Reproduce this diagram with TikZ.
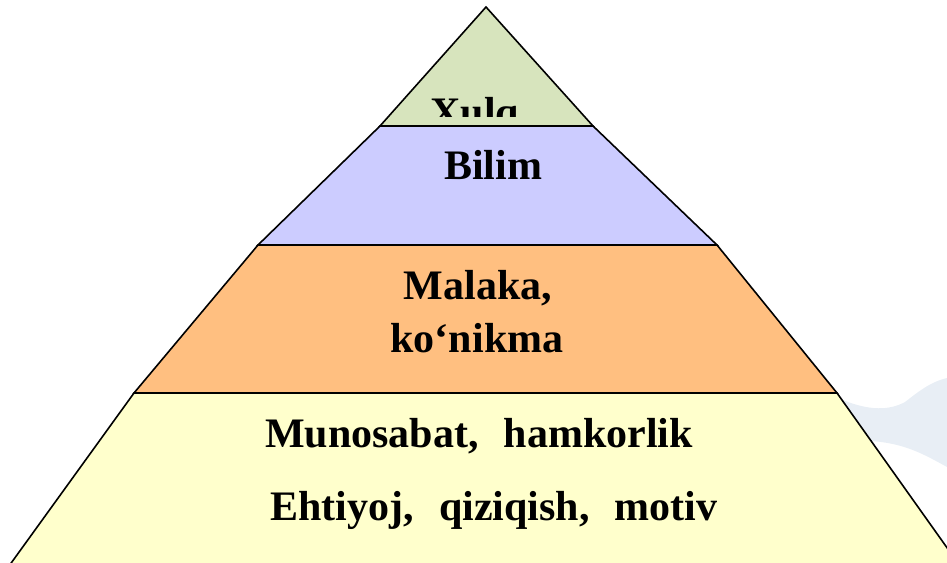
\documentclass[tikz,border=0pt]{standalone}
\usepackage{fontspec}
\setmainfont{Liberation Serif}
\definecolor{cgreen}{HTML}{D7E4BD}
\definecolor{cpurple}{HTML}{CCCCFF}
\definecolor{corange}{HTML}{FFBF80}
\definecolor{cyellow}{HTML}{FFFFCC}
\definecolor{cwater}{HTML}{E8EEF5}
\tikzset{
  layer/.style={draw=black, line width=1.6pt, line join=miter},
  lbl/.style={anchor=base, inner sep=0pt, font=\bfseries\fontsize{42}{50}\selectfont}
}
\begin{document}
\begin{tikzpicture}[x=1pt,y=-1pt]
\useasboundingbox (0,0) rectangle (947,562);
\clip (0,0) rectangle (947,562);
% faint background shape
\fill[cwater] (838,398) .. controls (870,412) and (890,410) .. (905,402)
  .. controls (918,392) and (930,382) .. (947,378) -- (947,467)
  .. controls (925,455) and (905,443) .. (870,441) -- (850,438) -- cycle;
% top triangle
\path[layer, fill=cgreen] (486,7) -- (593,126) -- (380,126) -- cycle;
\begin{scope}
  \clip (370,0) rectangle (600,116);
  \node[lbl] (xulq) at (475,126) {Xulq};
\end{scope}
% layers
\path[layer, fill=cpurple] (380,126) -- (593,126) -- (717,245) -- (258,245) -- cycle;
\path[layer, fill=corange] (258,245) -- (717,245) -- (837,393) -- (134,393) -- cycle;
\path[layer, fill=cyellow] (134,393) -- (837,393) -- (960,566) -- (9,566) -- cycle;
% labels
\node[lbl] (bilim) at (493,179) {Bilim};
\node[lbl] (malaka) at (478,299) {Malaka,};
\node[lbl] (konikma) at (477,352) {ko‘nikma};
\node[lbl] (munosabat) at (479,447) {Munosabat,\hspace{0.6em}hamkorlik};
\node[lbl] (ehtiyoj) at (494,520) {Ehtiyoj,\hspace{0.6em}qiziqish,\hspace{0.6em}motiv};
\end{tikzpicture}
\end{document}
